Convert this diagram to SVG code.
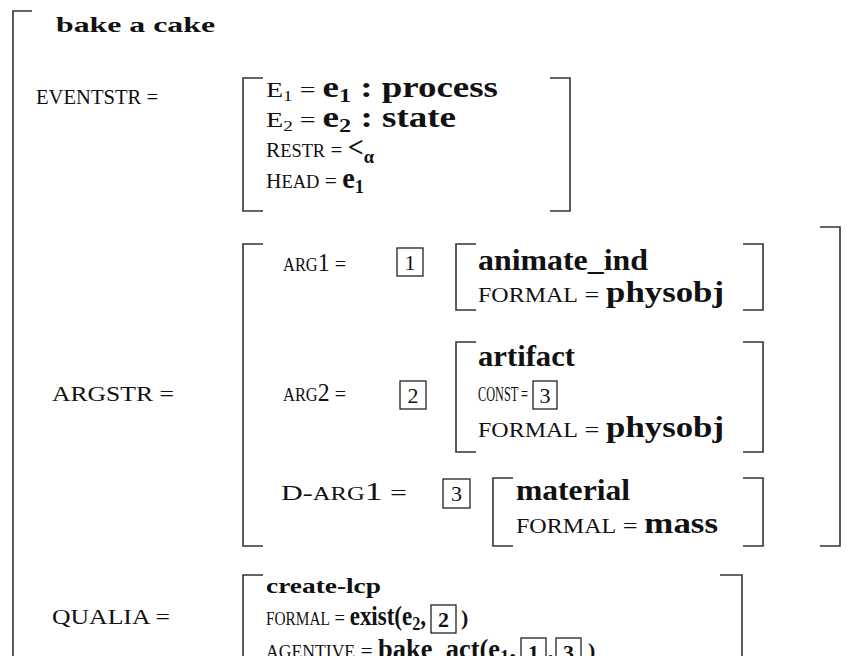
<svg xmlns="http://www.w3.org/2000/svg" width="865" height="656" viewBox="0 0 865 656">
<style>
text{font-family:"Liberation Serif","Times New Roman",serif;font-size:22px;fill:#111}
.b{font-weight:bold}
.bv{font-weight:bold;font-size:29px}
.sc{font-size:18px}
.sub{font-size:15px}
.bs{font-weight:bold;font-size:19px}
.br{fill:none;stroke:#333;stroke-width:1.6}
.bx{fill:none;stroke:#222;stroke-width:1.3}
</style>
<rect width="865" height="656" fill="#fff"/>
<g id="outer">
<path class="br" d="M32,11 H13 V660"/>
<text x="56" y="32" class="b" font-size="30" textLength="159" lengthAdjust="spacingAndGlyphs">bake a cake</text>
</g>
<g id="eventstr">
<text x="36" y="104" font-size="23" textLength="122" lengthAdjust="spacingAndGlyphs">EVENTSTR =</text>
<path class="br" d="M263,78 H243 V211 H263 M550,78 H570 V211 H550"/>
<text x="266" y="97" textLength="232" lengthAdjust="spacingAndGlyphs">E<tspan class="sub" dy="4">1</tspan><tspan dy="-4"> = </tspan><tspan class="bv">e</tspan><tspan class="bs" dy="5">1</tspan><tspan class="bv" dy="-5"> : process</tspan></text>
<text x="266" y="127" textLength="190" lengthAdjust="spacingAndGlyphs">E<tspan class="sub" dy="4">2</tspan><tspan dy="-4"> = </tspan><tspan class="bv">e</tspan><tspan class="bs" dy="5">2</tspan><tspan class="bv" dy="-5"> : state</tspan></text>
<text x="266" y="157" font-size="24" textLength="108" lengthAdjust="spacingAndGlyphs">R<tspan font-size="19">ESTR</tspan> = <tspan class="bv">&lt;</tspan><tspan class="bs" dy="6">α</tspan></text>
<text x="266" y="188" font-size="24" textLength="98" lengthAdjust="spacingAndGlyphs">H<tspan font-size="19">EAD</tspan> = <tspan class="bv">e</tspan><tspan class="bs" dy="5">1</tspan></text>
</g>
<g id="argstr">
<text x="52" y="401" font-size="23" textLength="122" lengthAdjust="spacingAndGlyphs">ARGSTR =</text>
<path class="br" d="M263,244 H243 V546 H263 M820,227 H840 V546 H820"/>
</g>
<g id="arg1">
<text x="283" y="271" textLength="63" lengthAdjust="spacingAndGlyphs"><tspan class="sc">ARG</tspan><tspan font-size="26">1</tspan> =</text>
<rect class="bx" x="397" y="248" width="26" height="28"/>
<text x="410" y="270" text-anchor="middle">1</text>
<path class="br" d="M476,244 H456 V310 H476 M743,244 H763 V310 H743"/>
<text x="478" y="270" class="bv" textLength="170" lengthAdjust="spacingAndGlyphs">animate_ind</text>
<text x="478" y="302" textLength="246" lengthAdjust="spacingAndGlyphs"><tspan font-size="20">FORMAL</tspan> = <tspan class="bv">physobj</tspan></text>
</g>
<g id="arg2">
<text x="283" y="401" textLength="63" lengthAdjust="spacingAndGlyphs"><tspan class="sc">ARG</tspan><tspan font-size="26">2</tspan> =</text>
<rect class="bx" x="400" y="381" width="26" height="28"/>
<text x="413" y="403" text-anchor="middle">2</text>
<path class="br" d="M476,342 H456 V452 H476 M743,342 H763 V452 H743"/>
<text x="478" y="366" class="bv" textLength="97" lengthAdjust="spacingAndGlyphs">artifact</text>
<text x="478" y="401" font-size="20" textLength="50" lengthAdjust="spacingAndGlyphs">CONST =</text>
<rect class="bx" x="533" y="381" width="24" height="28"/>
<text x="545" y="403" text-anchor="middle">3</text>
<text x="478" y="437" textLength="246" lengthAdjust="spacingAndGlyphs"><tspan font-size="20">FORMAL</tspan> = <tspan class="bv">physobj</tspan></text>
</g>
<g id="darg1">
<text x="281" y="500" textLength="126" lengthAdjust="spacingAndGlyphs">D-<tspan class="sc">ARG</tspan><tspan font-size="26">1</tspan> =</text>
<rect class="bx" x="443" y="479" width="27" height="29"/>
<text x="456.5" y="501" text-anchor="middle">3</text>
<path class="br" d="M513,478 H493 V546 H513 M743,478 H763 V546 H743"/>
<text x="516" y="500" class="bv" textLength="114" lengthAdjust="spacingAndGlyphs">material</text>
<text x="516" y="533" textLength="202" lengthAdjust="spacingAndGlyphs"><tspan font-size="20">FORMAL</tspan> = <tspan class="bv">mass</tspan></text>
</g>
<g id="qualia">
<text x="52" y="624" font-size="23" textLength="118" lengthAdjust="spacingAndGlyphs">QUALIA =</text>
<path class="br" d="M263,575 H243 V660 M720,575 H742 V660"/>
<text x="266" y="593" class="b" font-size="27" textLength="115" lengthAdjust="spacingAndGlyphs">create-lcp</text>
<text x="266" y="625" textLength="160" lengthAdjust="spacingAndGlyphs"><tspan class="sc">FORMAL</tspan> = <tspan class="b" font-size="27">exist(e</tspan><tspan class="bs" dy="5">2</tspan><tspan class="b" font-size="27" dy="-5">,</tspan></text>
<rect class="bx" x="431" y="605" width="25" height="28"/>
<text x="443.5" y="627" text-anchor="middle" class="b">2</text>
<text x="461" y="625" class="b" font-size="27">)</text>
<text x="266" y="658" textLength="250" lengthAdjust="spacingAndGlyphs"><tspan class="sc">AGENTIVE</tspan> = <tspan class="b" font-size="27">bake_act(e</tspan><tspan class="bs" dy="5">1</tspan><tspan class="b" font-size="27" dy="-5">,</tspan></text>
<rect class="bx" x="521" y="638" width="25" height="28"/>
<text x="533.5" y="660" text-anchor="middle" class="b">1</text>
<text x="548" y="658" class="b" font-size="27">,</text>
<rect class="bx" x="556" y="638" width="25" height="28"/>
<text x="568.5" y="660" text-anchor="middle" class="b">3</text>
<text x="588" y="658" class="b" font-size="27">)</text>
</g>
</svg>
